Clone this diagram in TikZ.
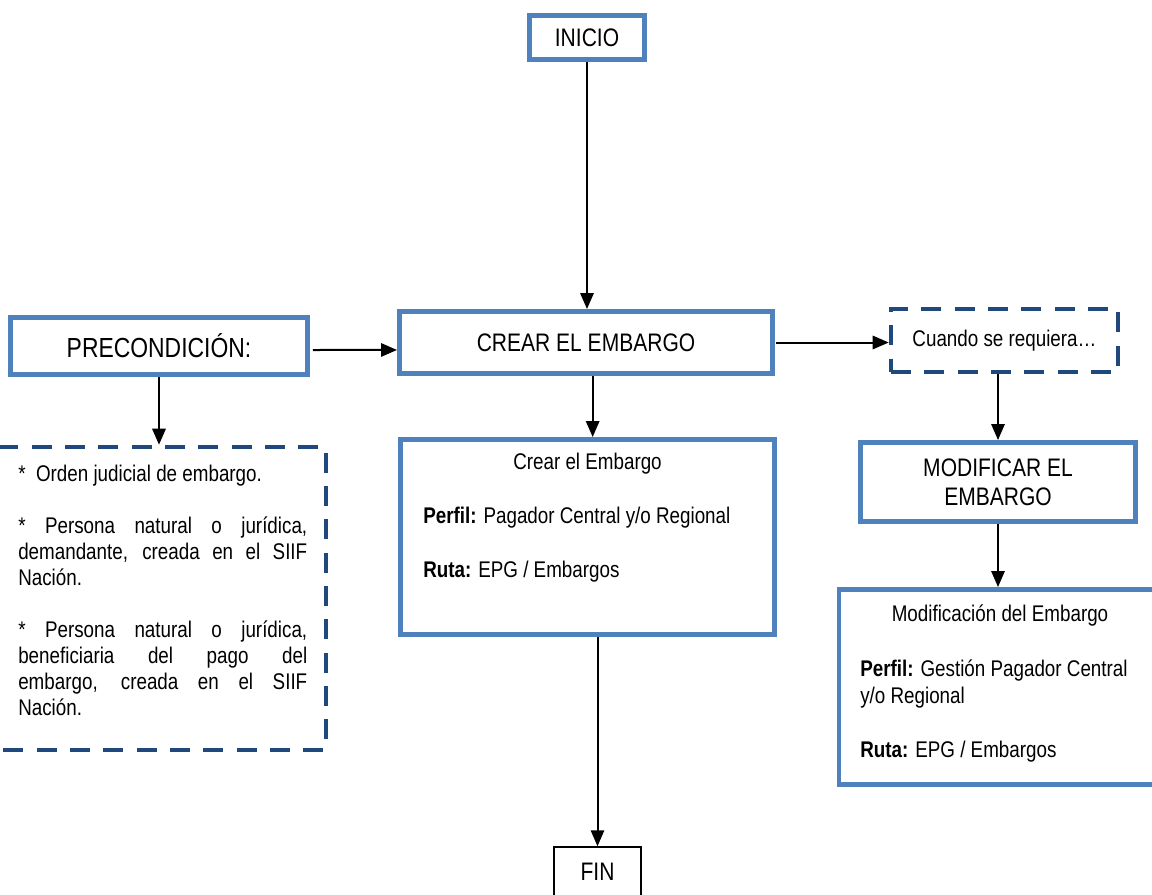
\documentclass[tikz,border=0pt]{standalone}
\usepackage{fontspec}
\setmainfont{Liberation Sans}[FakeStretch=0.83]
\usetikzlibrary{arrows.meta}
\definecolor{boxblue}{HTML}{4F81BD}
\definecolor{dashblue}{HTML}{1F497D}
\tikzset{
  bluebox/.style={draw=boxblue, line width=3.7pt, fill=white, inner sep=0pt, align=center},
  dashbox/.style={draw=dashblue, line width=3.4pt, dash pattern=on 15pt off 10pt, inner sep=0pt, align=center},
  finbox/.style={draw=black, line width=1.1pt, inner sep=0pt},
  arr/.style={-{Triangle[length=12pt,width=10pt]}, line width=1.5pt, black},
  hfont/.style={font=\fontsize{19pt}{22pt}\selectfont},
  tfont/.style={font=\fontsize{17pt}{20pt}\selectfont},
  bfont/.style={font=\fontsize{17pt}{19.5pt}\selectfont},
  plain/.style={inner sep=0pt},
}
\begin{document}
\begin{tikzpicture}[x=0.75pt,y=-0.75pt]
\useasboundingbox (0,0) rectangle (1152,895);
\clip (0,0) rectangle (1152,895);
\fill[white] (0,0) rectangle (1152,895);

% main boxes
\node[bluebox, hfont, minimum width=115*0.75pt, minimum height=44*0.75pt] (inicio) at (587,37.5) {INICIO};
\node[bluebox, font=\fontsize{20.7pt}{24pt}\selectfont, minimum width=297*0.75pt, minimum height=57*0.75pt] (pre) at (159,346) {PRECONDICIÓN:};
\node[bluebox, hfont, minimum width=373*0.75pt, minimum height=62*0.75pt] (crear) at (586,342.5) {CREAR EL EMBARGO};
\node[dashbox, tfont, minimum width=227*0.75pt, minimum height=63*0.75pt] (cuando) at (1004.5,340.5) {Cuando se requiera…};
\node[bluebox, hfont, minimum width=275*0.75pt, minimum height=79*0.75pt] (modif) at (998,482) {MODIFICAR EL\\EMBARGO};

% detail box: crear
\node[bluebox, minimum width=374*0.75pt, minimum height=195*0.75pt] (crd) at (587.5,537) {};
\node[plain, tfont] (crdt) at (587.5,464) {Crear el Embargo};
\node[plain, bfont, anchor=west] (crdp) at (423,518) {\textbf{Perfil:} Pagador Central y/o Regional};
\node[plain, bfont, anchor=west] (crdr) at (423,572) {\textbf{Ruta:} EPG / Embargos};

% detail box: modificar
\node[bluebox, minimum width=326*0.75pt, minimum height=195*0.75pt] (mdd) at (1002,687) {};
\node[plain, tfont] (mddt) at (1000,616) {Modificación del Embargo};
\node[plain, bfont, anchor=west] (mddp) at (860,670) {\textbf{Perfil:} Gestión Pagador Central};
\node[plain, bfont, anchor=west] (mddp2) at (860,698) {y/o Regional};
\node[plain, bfont, anchor=west] (mddr) at (860,752) {\textbf{Ruta:} EPG / Embargos};

% precondition list
\node[dashbox, minimum width=356*0.75pt, minimum height=303*0.75pt] (prel) at (148,598.5) {};
\node[plain, bfont, anchor=north west, text width=289*0.75pt, align=justify] (prelt) at (18,465)
{\setlength{\parskip}{19.5pt}*\ \ Orden judicial de embargo.\par
* Persona natural o jurídica,\linebreak demandante, creada en el SIIF\linebreak Nación.\par
* Persona natural o jurídica,\linebreak beneficiaria del pago del\linebreak embargo, creada en el SIIF\linebreak Nación.\par};

% fin
\node[finbox, minimum width=87*0.75pt, minimum height=72*0.75pt] (fin) at (597.5,883) {};
\node[plain, hfont] (fint) at (597.5,872) {FIN};

% connectors
\draw[arr] (inicio.south) -- (inicio.south |- crear.north);
\draw[arr] ([xshift=2.25pt,yshift=-3pt]pre.east) -- ([yshift=-5.6pt]crear.west);
\draw[arr] ([xshift=1pt]crear.east) -- (cuando.west |- crear.east);
\draw[arr] (cuando.south -| modif.north) -- (modif.north);
\draw[arr] (modif.south) -- (modif.south |- mdd.north);
\draw[arr] ([xshift=5pt]crear.south) -- ([xshift=5pt]crear.south |- crd.north);
\draw[arr] (crd.south -| fin.north) -- (fin.north);
\draw[arr] (pre.south) -- (pre.south |- prel.north);
\end{tikzpicture}
\end{document}
